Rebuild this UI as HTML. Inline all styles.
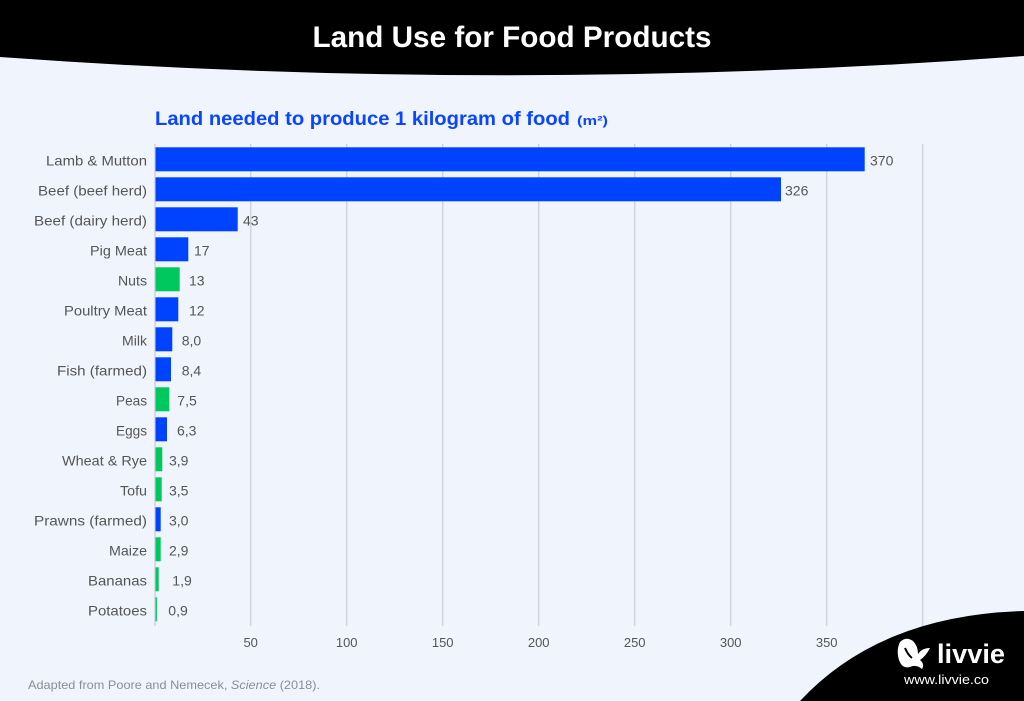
<!DOCTYPE html>
<html>
<head>
<meta charset="utf-8">
<style>
html,body{margin:0;padding:0;background:#f0f5fd;}
svg{display:block;}
text{font-family:"Liberation Sans",sans-serif;}
</style>
</head>
<body>
<svg width="1024" height="701" viewBox="0 0 1024 701" xmlns="http://www.w3.org/2000/svg">
<rect x="0" y="0" width="1024" height="701" fill="#f0f5fd"/>
<!-- header -->
<path d="M0,0 H1024 V56 Q512,94 0,57 Z" fill="#000"/>
<text x="512" y="47" text-anchor="middle" font-size="30" font-weight="bold" fill="#fff" textLength="399" lengthAdjust="spacingAndGlyphs">Land Use for Food Products</text>
<!-- subtitle -->
<text x="155" y="125" font-size="19" font-weight="bold" fill="#0a45ff" textLength="415" lengthAdjust="spacingAndGlyphs">Land needed to produce 1 kilogram of food</text>
<text x="577" y="125" font-size="13" font-weight="bold" fill="#0a45ff" textLength="31" lengthAdjust="spacingAndGlyphs">(m²)</text>
<!-- gridlines -->
<g stroke="#cfd3da" stroke-width="1.5">
<line x1="155" y1="144" x2="155" y2="626"/>
<line x1="250.7" y1="144" x2="250.7" y2="626"/>
<line x1="346.7" y1="144" x2="346.7" y2="626"/>
<line x1="442.7" y1="144" x2="442.7" y2="626"/>
<line x1="538.7" y1="144" x2="538.7" y2="626"/>
<line x1="634.7" y1="144" x2="634.7" y2="626"/>
<line x1="730.7" y1="144" x2="730.7" y2="626"/>
<line x1="826.7" y1="144" x2="826.7" y2="626"/>
<line x1="922.7" y1="144" x2="922.7" y2="626"/>
</g>
<!-- tick labels -->
<g font-size="13" fill="#555" text-anchor="middle">
<text x="250.7" y="647">50</text>
<text x="346.7" y="647">100</text>
<text x="442.7" y="647">150</text>
<text x="538.7" y="647">200</text>
<text x="634.7" y="647">250</text>
<text x="730.7" y="647">300</text>
<text x="826.7" y="647">350</text>
</g>
<!-- bars -->
<g>
<rect x="155.5" y="147.3" width="709.2" height="24" fill="#0043ff"/>
<rect x="155.5" y="177.3" width="625.5" height="24" fill="#0043ff"/>
<rect x="155.5" y="207.3" width="82.2" height="24" fill="#0043ff"/>
<rect x="155.5" y="237.3" width="32.8" height="24" fill="#0043ff"/>
<rect x="155.5" y="267.3" width="24.2" height="24" fill="#00c85f"/>
<rect x="155.5" y="297.3" width="22.8" height="24" fill="#0043ff"/>
<rect x="155.5" y="327.3" width="16.8" height="24" fill="#0043ff"/>
<rect x="155.5" y="357.3" width="15.5" height="24" fill="#0043ff"/>
<rect x="155.5" y="387.3" width="13.8" height="24" fill="#00c85f"/>
<rect x="155.5" y="417.3" width="11.5" height="24" fill="#0043ff"/>
<rect x="155.5" y="447.3" width="6.8" height="24" fill="#00c85f"/>
<rect x="155.5" y="477.3" width="6.2" height="24" fill="#00c85f"/>
<rect x="155.5" y="507.3" width="5.2" height="24" fill="#0043ff"/>
<rect x="155.5" y="537.3" width="5.2" height="24" fill="#00c85f"/>
<rect x="155.5" y="567.3" width="3.2" height="24" fill="#00c85f"/>
<rect x="155.5" y="597.3" width="1.4" height="24" fill="#00c85f"/>
</g>
<!-- category labels -->
<g font-size="14" fill="#555" text-anchor="end">
<text x="147" y="165.5" textLength="101" lengthAdjust="spacingAndGlyphs">Lamb &amp; Mutton</text>
<text x="147" y="195.5" textLength="109" lengthAdjust="spacingAndGlyphs">Beef (beef herd)</text>
<text x="147" y="225.5" textLength="113" lengthAdjust="spacingAndGlyphs">Beef (dairy herd)</text>
<text x="147" y="255.5" textLength="57" lengthAdjust="spacingAndGlyphs">Pig Meat</text>
<text x="147" y="285.5" textLength="29" lengthAdjust="spacingAndGlyphs">Nuts</text>
<text x="147" y="315.5" textLength="83" lengthAdjust="spacingAndGlyphs">Poultry Meat</text>
<text x="147" y="345.5" textLength="25" lengthAdjust="spacingAndGlyphs">Milk</text>
<text x="147" y="375.5" textLength="90" lengthAdjust="spacingAndGlyphs">Fish (farmed)</text>
<text x="147" y="405.5" textLength="31" lengthAdjust="spacingAndGlyphs">Peas</text>
<text x="147" y="435.5" textLength="31" lengthAdjust="spacingAndGlyphs">Eggs</text>
<text x="147" y="465.5" textLength="85" lengthAdjust="spacingAndGlyphs">Wheat &amp; Rye</text>
<text x="147" y="495.5" textLength="27" lengthAdjust="spacingAndGlyphs">Tofu</text>
<text x="147" y="525.5" textLength="113" lengthAdjust="spacingAndGlyphs">Prawns (farmed)</text>
<text x="147" y="555.5" textLength="38" lengthAdjust="spacingAndGlyphs">Maize</text>
<text x="147" y="585.5" textLength="59" lengthAdjust="spacingAndGlyphs">Bananas</text>
<text x="147" y="615.5" textLength="59" lengthAdjust="spacingAndGlyphs">Potatoes</text>
</g>
<!-- value labels -->
<g font-size="14" fill="#555">
<text x="870" y="165.5">370</text>
<text x="785" y="195.5">326</text>
<text x="243" y="225.5">43</text>
<text x="194" y="255.5">17</text>
<text x="189" y="285.5">13</text>
<text x="189" y="315.5">12</text>
<text x="181.7" y="345.5">8,0</text>
<text x="181.7" y="375.5">8,4</text>
<text x="177.3" y="405.5">7,5</text>
<text x="177" y="435.5">6,3</text>
<text x="169" y="465.5">3,9</text>
<text x="169" y="495.5">3,5</text>
<text x="169" y="525.5">3,0</text>
<text x="169" y="555.5">2,9</text>
<text x="172.3" y="585.5">1,9</text>
<text x="168.3" y="615.5">0,9</text>
</g>
<!-- footer -->
<text x="28" y="689" font-size="12" fill="#8a8d94" textLength="292" lengthAdjust="spacingAndGlyphs">Adapted from Poore and Nemecek, <tspan font-style="italic">Science</tspan> (2018).</text>
<!-- bottom-right logo area -->
<path d="M800,701 Q880,615 1024,611 L1024,701 Z" fill="#000"/>
<path d="M900,642 Q906,636 913,641 Q918,646 918,654 Q922,648 930,648 Q926,656 920,660 Q925,664 922,669 Q916,664 910,667 Q902,669 899,660 Q896,650 900,642 Z" fill="#fff"/>
<path d="M905,648 Q908,655 912,658" stroke="#000" stroke-width="2" fill="none"/>
<text x="937" y="663" font-size="27" font-weight="bold" fill="#fff" textLength="68" lengthAdjust="spacingAndGlyphs">livvie</text>
<text x="904" y="684" font-size="13" fill="#fff" textLength="85" lengthAdjust="spacingAndGlyphs">www.livvie.co</text>
</svg>
</body>
</html>
